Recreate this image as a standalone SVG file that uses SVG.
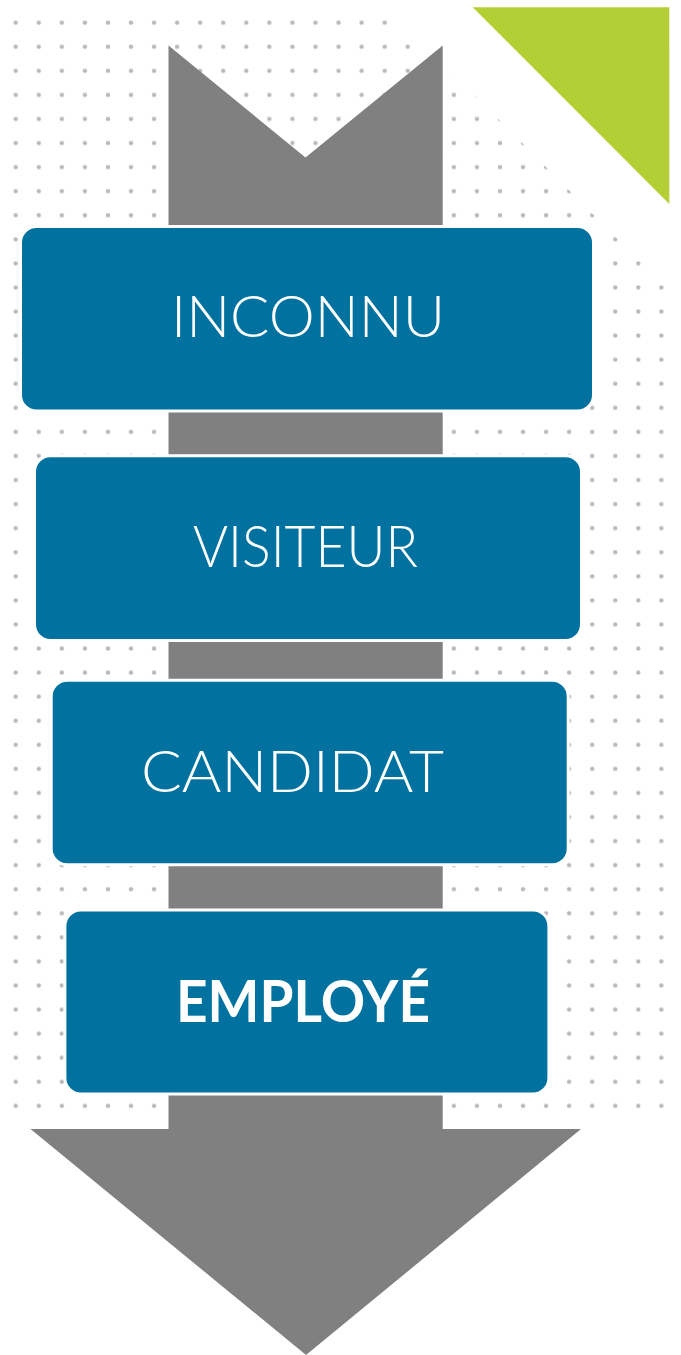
<svg xmlns="http://www.w3.org/2000/svg" width="681" height="1355" viewBox="0 0 681 1355">
  <style>
    .box { fill: #01729f; stroke: #ffffff; stroke-width: 3; }
    .lbl { fill: #ffffff; font-family: Lato, "Open Sans", "Liberation Sans", sans-serif; font-size: 58px; font-weight: 300; }
    .bold { font-weight: 700; }
  </style>
  <defs>
    <pattern id="dots" patternUnits="userSpaceOnUse" x="4.17" y="10.665" width="23.06" height="24.07">
      <circle cx="11.53" cy="12.035" r="2.2" fill="#b9b9b9"/>
    </pattern>
    <clipPath id="dotclip">
      <polygon points="8,8 388,8 678,300 678,1116 8,1116"/>
    </clipPath>
  </defs>
  <rect width="681" height="1355" fill="#ffffff"/>
  <g id="dot-grid">
    <rect x="0" y="0" width="681" height="1120" fill="url(#dots)" clip-path="url(#dotclip)"/>
  </g>
  <g id="corner-triangle">
    <polygon points="472.7,7.3 669.3,7.3 669.3,204" fill="#b4cf35"/>
  </g>
  <g id="connectors">
    <polygon points="168.5,45.5 305.5,157.5 442.7,45.5 442.7,1129 581,1129 306,1355 30.5,1129 168.5,1129" fill="#808080"/>
  </g>
  <g id="node-inconnu">
    <rect class="box" x="20.5" y="226.5" width="573" height="184.5" rx="16"/>
    <text class="lbl" x="171" y="336.7" textLength="274" lengthAdjust="spacingAndGlyphs">INCONNU</text>
  </g>
  <g id="node-visiteur">
    <rect class="box" x="34.5" y="455.8" width="547" height="184.7" rx="16"/>
    <text class="lbl" x="193" y="566.7" textLength="225" lengthAdjust="spacingAndGlyphs">VISITEUR</text>
  </g>
  <g id="node-candidat">
    <rect class="box" x="51.2" y="680.2" width="517" height="184.6" rx="16"/>
    <text class="lbl" x="141" y="791.7" textLength="303" lengthAdjust="spacingAndGlyphs">CANDIDAT</text>
  </g>
  <g id="node-employe">
    <rect class="box" x="64.9" y="910" width="484" height="184" rx="16"/>
    <text class="lbl bold" x="176" y="1021.7" textLength="254" lengthAdjust="spacingAndGlyphs">EMPLOYÉ</text>
  </g>
</svg>
